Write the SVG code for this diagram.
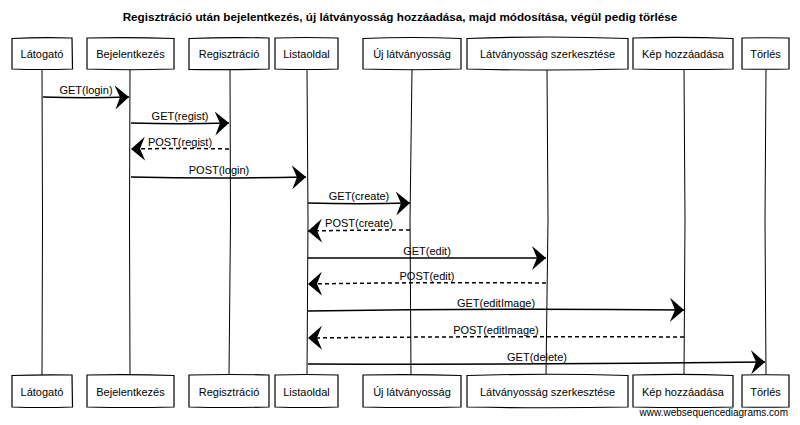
<svg xmlns="http://www.w3.org/2000/svg" width="800" height="425" viewBox="0 0 800 425">
<defs>
<marker id="ah" markerUnits="userSpaceOnUse" markerWidth="16" markerHeight="26" refX="14" refY="13" orient="auto" viewBox="0 0 16 26">
<path d="M0,1 L14,13 L0,25 L5,13 Z" fill="#000"/>
</marker>
</defs>
<style>
.box{fill:#fff;stroke:#000;stroke-width:1.2}
.lbl{font-family:"Liberation Sans",Arial,sans-serif;font-size:11px;fill:#000;text-anchor:middle}
.life{stroke:#000;stroke-width:1;fill:none}
.msg{stroke:#000;stroke-width:1.5;fill:none;marker-end:url(#ah)}
.ret{stroke-dasharray:4 3}
.title{font-family:"Liberation Sans",Arial,sans-serif;font-size:11.7px;font-weight:bold;text-anchor:middle}
</style>
<rect width="800" height="425" fill="#fff"/>
<text class="title" x="400" y="21">Regisztráció után bejelentkezés, új látványosság hozzáadása, majd módosítása, végül pedig törlése</text>

<g id="lifelines">
<path class="life" d="M42,69 L42.5,220 L42,375"/>
<path class="life" d="M130,69 L129.5,220 L130,375"/>
<path class="life" d="M230,69 L230.5,220 L229,375"/>
<path class="life" d="M307,69 L308,220 L307,375"/>
<path class="life" d="M412,69 L410,220 L411,375"/>
<path class="life" d="M547,69 L548,220 L546,375"/>
<path class="life" d="M684,69 L685,220 L684,375"/>
<path class="life" d="M766,69 L765,220 L766,375"/>
</g>

<g id="latogato">
<path class="box" d="M12,38.5 Q42,37 72,38 L72.5,69 Q42,70 12,69 Z"/>
<text class="lbl" x="42" y="57.5">Látogató</text>
<path class="box" d="M12,375.5 Q42,374.5 72,375 L72.5,407 Q42,408 12,407 Z"/>
<text class="lbl" x="42" y="395.5">Látogató</text>
</g>
<g id="bejelentkezes">
<path class="box" d="M87,38 Q130,37 174,38.5 L174,69 Q130,70.5 87,69 Z"/>
<text class="lbl" x="130.5" y="57.5">Bejelentkezés</text>
<path class="box" d="M87,375 Q130,374 174,375.5 L174,407 Q130,408 87,407 Z"/>
<text class="lbl" x="130.5" y="395.5">Bejelentkezés</text>
</g>
<g id="regisztracio">
<path class="box" d="M189,38.5 Q229,37 269,38 L269,69 Q229,70 189,69.5 Z"/>
<text class="lbl" x="229" y="57.5">Regisztráció</text>
<path class="box" d="M189,375 Q229,374 269,375 L269,407 Q229,408 189,407 Z"/>
<text class="lbl" x="229" y="395.5">Regisztráció</text>
</g>
<g id="listaoldal">
<path class="box" d="M275,38 Q306,37 338,38 L338,69 Q306,70 275,69 Z"/>
<text class="lbl" x="306.5" y="57.5">Listaoldal</text>
<path class="box" d="M275,375 Q306,374 338,375 L338,407 Q306,408 275,407 Z"/>
<text class="lbl" x="306.5" y="395.5">Listaoldal</text>
</g>
<g id="uj-latvanyossag">
<path class="box" d="M363,38.5 Q412,36.5 461,38.5 L461,69 Q412,70.5 363,69 Z"/>
<text class="lbl" x="412" y="57.5">Új látványosság</text>
<path class="box" d="M363,375 Q412,374 461,375.5 L461,407 Q412,408 363,407 Z"/>
<text class="lbl" x="412" y="395.5">Új látványosság</text>
</g>
<g id="latvanyossag-szerkesztese">
<path class="box" d="M467,38.5 Q547,35.5 628,38.5 L628,69 Q547,71 467,69 Z"/>
<text class="lbl" x="547.5" y="57.5">Látványosság szerkesztése</text>
<path class="box" d="M467,375.5 Q547,373 628,375.5 L628,407 Q547,408.5 467,407 Z"/>
<text class="lbl" x="547.5" y="395.5">Látványosság szerkesztése</text>
</g>
<g id="kep-hozzaadasa">
<path class="box" d="M633,38 Q683,36.5 733,38.5 L733,69 Q683,70 633,69 Z"/>
<text class="lbl" x="683" y="57.5">Kép hozzáadása</text>
<path class="box" d="M633,375 Q683,373.5 733,375.5 L733,407 Q683,408 633,407 Z"/>
<text class="lbl" x="683" y="395.5">Kép hozzáadása</text>
</g>
<g id="torles">
<path class="box" d="M742,38 Q765,37.5 789,38 L789,69 Q765,69.5 742,69 Z"/>
<text class="lbl" x="765.5" y="57.5">Törlés</text>
<path class="box" d="M742,375 Q765,374.5 789,375 L789,407 Q765,407.5 742,407 Z"/>
<text class="lbl" x="765.5" y="395.5">Törlés</text>
</g>

<g id="connectors">
<path class="msg" d="M43,97 Q86,98.5 129,97"/>
<text class="lbl" x="86" y="94">GET(login)</text>
<path class="msg" d="M131,123 Q180,124.5 229,123"/>
<text class="lbl" x="180" y="120">GET(regist)</text>
<path class="msg ret" d="M229,149 Q180,148 131,149"/>
<text class="lbl" x="180" y="146">POST(regist)</text>
<path class="msg" d="M131,177 Q219,179 306,177"/>
<text class="lbl" x="219" y="174">POST(login)</text>
<path class="msg" d="M308,203 Q359,204.5 410,203"/>
<text class="lbl" x="359" y="200">GET(create)</text>
<path class="msg ret" d="M410,230 Q359,230 308,231"/>
<text class="lbl" x="359" y="227">POST(create)</text>
<path class="msg" d="M308,258 Q427,258 546,258"/>
<text class="lbl" x="427" y="255">GET(edit)</text>
<path class="msg ret" d="M546,283 Q427,282 308,284"/>
<text class="lbl" x="427" y="280">POST(edit)</text>
<path class="msg" d="M308,311 Q496,308 684,310"/>
<text class="lbl" x="496" y="307">GET(editImage)</text>
<path class="msg ret" d="M684,337 Q496,336 308,338"/>
<text class="lbl" x="496" y="334">POST(editImage)</text>
<path class="msg" d="M308,364 Q537,365 765,362"/>
<text class="lbl" x="537" y="361">GET(delete)</text>
</g>

<text x="788" y="416" style="font-family:'Liberation Sans',Arial,sans-serif;font-size:10px;text-anchor:end">www.websequencediagrams.com</text>
</svg>
